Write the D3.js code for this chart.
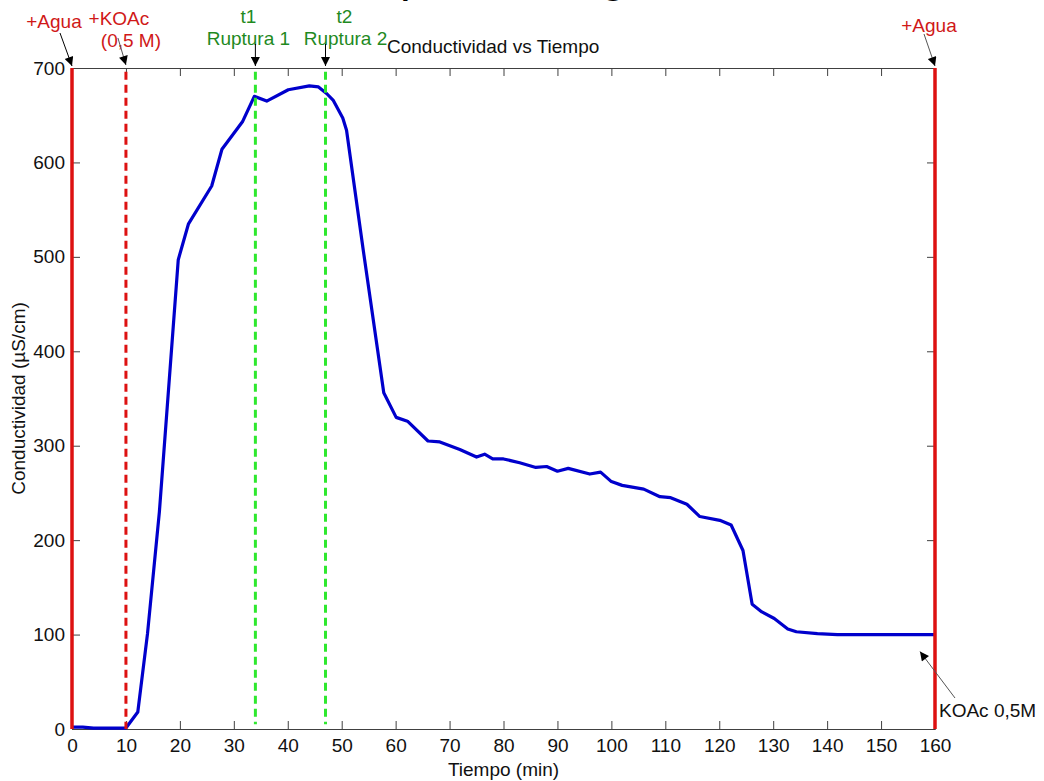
<!DOCTYPE html>
<html lang="es">
<head>
    <meta charset="UTF-8">
    <title>Conductividad vs Tiempo</title>
    <script src="https://d3js.org/d3.v7.min.js"></script>
    <style>
        body {margin: 0; background: #fff;}
        svg {display: block;}
        text {
            font-family: "Liberation Sans", Arial, sans-serif;
            font-size: 19px;
        }
    </style>
</head>
<body>
<script>
    const width = 1044;
    const height = 781;

    // tiempo (min) y conductividad (uS/cm)
    const tiempo = [0, 2, 4, 6, 8, 10, 12.2, 14, 16.2, 19.7, 21.6, 25.9, 27.8, 31.6, 33.8, 36.1,
        40.1, 44, 45.7, 47.2, 48.4, 50.2, 50.9, 54, 57.8, 60.1, 62.2, 66, 68.2, 71.9, 75, 76.5,
        78, 80, 83, 86, 88, 90, 92, 96, 98, 100, 102, 106, 109, 111, 114, 116.4, 120.1, 122.2,
        124.4, 126.1, 127.9, 130.2, 132.7, 134.3, 138.2, 141.9, 160];
    const conductividad = [2, 2, 1, 1, 1, 1, 18, 101, 230, 497, 535, 575, 614, 643, 670, 665,
        677, 681, 680, 673, 666, 647, 634, 507, 356, 330, 326, 305, 304, 296, 288, 291,
        286, 286, 282, 277, 278, 273, 276, 270, 272, 262, 258, 254, 246, 245, 238, 225, 221, 216,
        189, 132, 124, 117, 106, 103, 101, 100, 100];

    const xTicks = [0, 10, 20, 30, 40, 50, 60, 70, 80, 90, 100, 110, 120, 130, 140, 150, 160];
    const yTicks = [0, 100, 200, 300, 400, 500, 600, 700];

    // lineas verticales de eventos
    const adiciones = [{t: 0, dash: false}, {t: 10, dash: true}, {t: 160, dash: false}];
    const rupturas = [34, 47];

    const margin = {left: 72, right: 109, top: 68, bottom: 52};

    const svg = d3.select("body").append("svg")
            .attr("width", width).attr("height", height);

    const x = d3.scaleLinear().domain([0, 160]).range([margin.left, width - margin.right]);
    const y = d3.scaleLinear().domain([0, 700]).range([height - margin.bottom, margin.top]);

    // titulo grande cortado por el borde superior (solo se ven los descendentes)
    svg.append("text")
            .attr("x", 295).attr("y", -9)
            .style("font-size", "48px")
            .text("Tiempo de carga");

    svg.append("defs").append("marker")
            .attr("id", "head")
            .attr("viewBox", "0 0 10 10")
            .attr("refX", 10).attr("refY", 5)
            .attr("markerWidth", 11).attr("markerHeight", 9)
            .attr("markerUnits", "userSpaceOnUse")
            .attr("orient", "auto")
            .append("path")
            .attr("d", "M0,0 L10,5 L0,10 Z")
            .style("fill", "black");

    // ejes tipo matlab: ticks hacia dentro en los cuatro lados
    const axisColor = "#404040";
    svg.append("g")
            .attr("transform", `translate(0,${y(0)})`)
            .call(d3.axisBottom(x).tickValues(xTicks).tickSizeInner(-8).tickSizeOuter(0).tickPadding(10));
    svg.append("g")
            .attr("transform", `translate(${x(0)},0)`)
            .call(d3.axisLeft(y).tickValues(yTicks).tickSizeInner(-8).tickSizeOuter(0).tickPadding(7));
    svg.append("g")
            .attr("transform", `translate(0,${y(700)})`)
            .call(d3.axisTop(x).tickValues(xTicks).tickSizeInner(-8).tickSizeOuter(0).tickFormat(""));
    svg.append("g")
            .attr("transform", `translate(${x(160)},0)`)
            .call(d3.axisRight(y).tickValues(yTicks).tickSizeInner(-8).tickSizeOuter(0).tickFormat(""));

    svg.selectAll(".domain, .tick line").style("stroke", axisColor);
    svg.selectAll(".tick text").style("font-size", "19px").style("fill", "#111");

    // curva de conductividad
    const line = d3.line()
            .x((d, i) => x(tiempo[i]))
            .y(d => y(d));

    svg.append("path")
            .datum(conductividad)
            .attr("d", line)
            .style("fill", "none")
            .style("stroke", "#0000cc")
            .style("stroke-width", 3.2)
            .style("stroke-linejoin", "round");

    // rupturas (verde discontinuo)
    svg.selectAll("line.ruptura")
            .data(rupturas)
            .enter()
            .append("line")
            .attr("class", "ruptura")
            .attr("x1", d => x(d)).attr("x2", d => x(d))
            .attr("y1", y(696)).attr("y2", y(5))
            .style("stroke", "#2ee82e")
            .style("stroke-width", 3)
            .style("stroke-dasharray", "8,5");

    // adiciones (rojo)
    svg.selectAll("line.adicion")
            .data(adiciones)
            .enter()
            .append("line")
            .attr("class", "adicion")
            .attr("x1", d => x(d.t)).attr("x2", d => x(d.t))
            .attr("y1", d => d.dash ? y(696) : y(700)).attr("y2", y(0))
            .style("stroke", "#dd1111")
            .style("stroke-width", d => d.dash ? 3 : 3.5)
            .style("stroke-dasharray", d => d.dash ? "8,5" : null);

    // textos de anotacion
    const red = "#d01818", green = "#1f8a1f";
    function label(tx, ty, str, color, anchor) {
        svg.append("text")
                .attr("x", tx).attr("y", ty)
                .attr("text-anchor", anchor || "middle")
                .style("fill", color)
                .text(str);
    }
    label(x(0) - 18, 28, "+Agua", red);
    label(x(10) - 7, 25, "+KOAc", red);
    label(x(10) + 5, 47, "(0,5 M)", red);
    label(x(34) - 7, 23, "t1", green);
    label(x(34) - 7, 45, "Ruptura 1", green);
    label(x(47) + 19, 23, "t2", green);
    label(x(47) + 20, 45, "Ruptura 2", green);
    label(x(160) - 6, 32, "+Agua", red);
    label(387, 53, "Conductividad vs Tiempo", "#111", "start");
    label(x(160) + 4, 717, "KOAc 0,5M", "#111", "start");

    // flechas
    function arrow(x1, y1, x2, y2, color) {
        svg.append("line")
                .attr("x1", x1).attr("y1", y1).attr("x2", x2).attr("y2", y2)
                .attr("marker-end", "url(#head)")
                .style("stroke", color)
                .style("stroke-width", 1);
    }
    arrow(x(0) - 12, 33, x(0), y(700) - 2, "black");
    arrow(x(10) - 8, 38, x(10), y(700) - 3, "#555");
    arrow(x(34), 44, x(34), y(700) - 2, "black");
    arrow(x(47), 44, x(47), y(700) - 2, "black");
    arrow(x(160) - 11, 34, x(160), y(700) - 2, "#555");
    arrow(x(160) + 20, 698, x(160) - 15, y(82), "#555");

    // etiquetas de ejes
    svg.append("text")
            .attr("x", (x(0) + x(160)) / 2).attr("y", 776)
            .attr("text-anchor", "middle")
            .style("fill", "#111")
            .text("Tiempo (min)");

    svg.append("text")
            .attr("transform", `translate(25,${(y(0) + y(700)) / 2}) rotate(-90)`)
            .attr("text-anchor", "middle")
            .style("fill", "#111")
            .text("Conductividad (µS/cm)");
</script>
</body>
</html>
